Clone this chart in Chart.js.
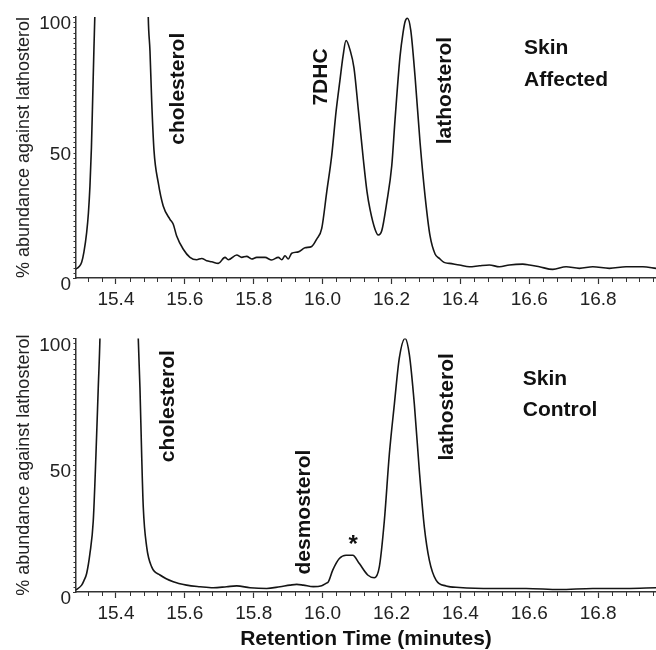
<!DOCTYPE html>
<html><head><meta charset="utf-8">
<script src="https://cdn.jsdelivr.net/npm/chart.js@4/dist/chart.umd.min.js"></script>
<style>
html,body{margin:0;padding:0;background:#fff;}
#wrap{position:relative;width:656px;height:650px;overflow:hidden;}
canvas{position:absolute;left:0;width:656px;height:325px;}
#c1{top:0}
#c2{top:325px}
</style></head><body>
<div id="wrap"><canvas id="c1" width="656" height="325"></canvas><canvas id="c2" width="656" height="325"></canvas></div>
<script>
// ---- data (retention time in minutes, % abundance against lathosterol) ----
const affectedTime = [15.2838,15.2925,15.3004,15.3071,15.3149,15.3201,15.3245,15.3288,15.3323,15.3361,15.339,15.3448,15.3535,15.417,15.484,15.49,15.4938,15.4988,15.5037,15.5104,15.5228,15.5372,15.5568,15.5664,15.5763,15.5955,15.6149,15.6344,15.6489,15.6634,15.678,15.6971,15.7166,15.7262,15.7506,15.7651,15.7796,15.7941,15.8087,15.8328,15.8522,15.8714,15.8813,15.8908,15.9004,15.9103,15.9295,15.9489,15.9684,15.9829,15.9975,16.012,16.0265,16.0393,16.0506,16.0593,16.068,16.0796,16.0912,16.1037,16.1183,16.129,16.1377,16.1522,16.1618,16.1717,16.1862,16.2007,16.2103,16.2248,16.2336,16.2394,16.2461,16.2559,16.2684,16.283,16.2975,16.312,16.3265,16.339,16.3527,16.3681,16.3971,16.4262,16.4552,16.4842,16.5133,16.5423,16.5812,16.6004,16.6294,16.6683,16.707,16.7456,16.7845,16.8327,16.8812,16.9297,16.9683];
const affectedAbundance = [3.4,4.3,6,10,17.4,25,35.2,50,68,88,102,140,200,700,200,130,100,87,68,49,36.5,27.6,22.5,20.6,16.1,11,7.9,7.0,7.5,6.6,6.2,5.6,7.9,7.0,8.8,7.9,8.3,7.3,7.9,7.9,6.9,7.9,7.0,8.5,7.3,9.5,10.0,11.6,12.1,14.9,19,33,47,64,76,85,91,87.4,80.4,64.5,45.4,33,26.3,18.7,16.5,18.1,28.9,42.9,60.7,84.9,94,98.2,99.5,95,77.2,51.8,31.4,16.1,9.2,7.5,6.0,5.6,5.0,4.3,4.7,5.0,4.3,5.0,5.3,5.0,4.3,3.3,4.3,3.7,4.3,3.7,4.3,4.3,3.7];

const controlTime = [15.2838,15.3004,15.3071,15.3149,15.3245,15.3341,15.3419,15.3486,15.3535,15.3593,15.4116,15.4581,15.4648,15.4697,15.4746,15.4793,15.4892,15.5037,15.5278,15.5664,15.6053,15.644,15.6826,15.7215,15.7506,15.7892,15.8377,15.8763,15.9053,15.9248,15.944,15.9731,15.9975,16.0099,16.0166,16.0294,16.0486,16.068,16.0875,16.1067,16.131,16.1502,16.1647,16.1793,16.1938,16.2083,16.2228,16.2394,16.2519,16.2664,16.2809,16.2954,16.31,16.3294,16.3585,16.3971,16.4941,16.5908,16.6875,16.7845,16.8812,16.9683];
const controlAbundance = [0.8,2.7,4.5,7.3,15.2,28,54,80.5,100,140,900,140,100,80.5,54.4,33.5,17.8,9.9,6.7,4.0,2.7,2.1,1.7,2.1,2.4,1.7,1.4,2.1,2.7,3.0,2.7,2.1,2.5,3.4,4.0,8.6,13.2,14.5,14.5,11.2,6.7,5.6,9.9,28.2,54.4,74,92.3,100,93.6,74,47.8,25.6,12.5,4.7,2.4,1.8,1.4,1.4,1.0,1.4,1.4,1.7];

const xTickLabels = ['15.4','15.6','15.8','16.0','16.2','16.4','16.6','16.8'];
const yTickLabels = ['0','50','100'];
const yAxisTitle = '% abundance against lathosterol';
const xAxisTitle = 'Retention Time (minutes)';

// peak labels: text, time, abundance, rotated
const affectedNotes = ['cholesterol','7DHC','lathosterol','Skin','Affected'];
const affectedNoteTime = [15.58,15.995,16.356,16.585,16.585];
const affectedNoteY = [72.5,77,71.8,88.2,75.6];
const affectedNoteRot = [true,true,true,false,false];

const controlNotes = ['cholesterol','desmosterol','*','lathosterol','Skin','Control'];
const controlNoteTime = [15.551,15.946,16.089,16.361,16.581,16.581];
const controlNoteY = [73.3,31.5,18.5,73,84.1,71.8];
const controlNoteRot = [true,true,false,true,false,false];

// ---- rendering ----
const FONT = "'Liberation Sans', Arial, Helvetica, sans-serif";
Chart.defaults.font.family = FONT;
Chart.defaults.color = '#222';

function notesPlugin(texts, times, ys, rots){
  return {
    id: 'notes',
    afterDatasetsDraw(chart){
      const {ctx, scales:{x, y}} = chart;
      ctx.save();
      ctx.fillStyle = '#111';
      texts.forEach((t, i) => {
        const px = x.getPixelForValue(times[i]);
        const py = y.getPixelForValue(ys[i]);
        ctx.save();
        ctx.font = (t === '*' ? 'bold 24px ' : 'bold 21px ') + FONT;
        ctx.translate(px, py);
        if (rots[i]) { ctx.rotate(-Math.PI/2); ctx.textAlign = 'center'; }
        else ctx.textAlign = (t === '*') ? 'center' : 'left';
        ctx.textBaseline = 'middle';
        ctx.fillText(t, 0, 0);
        ctx.restore();
      });
      ctx.restore();
    }
  };
}

const minorTicks = {
  id: 'minorTicks',
  afterDraw(chart){
    const {ctx, scales:{x, y}} = chart;
    ctx.save();
    ctx.strokeStyle = '#333';
    ctx.lineWidth = 1;
    ctx.beginPath();
    for (let v = 15.28; v <= x.max + 1e-9; v += 0.04) {
      const r = Math.round(v * 100) / 100;
      if (r < x.min || Math.abs(r * 5 - Math.round(r * 5)) < 1e-6) continue;
      const px = Math.round(x.getPixelForValue(r)) + 0.5;
      ctx.moveTo(px, y.bottom); ctx.lineTo(px, y.bottom + 4);
    }
    for (let v = 2; v < 100; v += 2) {
      if (v === 50) continue;
      const py = Math.round(y.getPixelForValue(v)) + 0.5;
      ctx.moveTo(x.left - 2.5, py); ctx.lineTo(x.left, py);
    }
    ctx.stroke();
    ctx.restore();
  }
};

function makeChart(id, times, values, notes, padTop, axisBottom, showXTitle){
  const H = 325;
  const pts = times.map((t, i) => ({x: t, y: values[i]}));
  return new Chart(document.getElementById(id), {
    type: 'line',
    data: { datasets: [{
      data: pts, borderColor: '#151515', borderWidth: 1.6, pointRadius: 0,
      fill: false, cubicInterpolationMode: 'monotone'
    }]},
    options: {
      responsive: false, animation: false, events: [],
      layout: { padding: { top: padTop, left: 0, right: 0, bottom: 0 } },
      plugins: { legend: { display: false }, tooltip: { enabled: false } },
      scales: {
        x: {
          type: 'linear', min: 15.284, max: 16.968,
          border: { color: '#333', width: 1.5 },
          grid: { drawOnChartArea: false, drawTicks: true, tickLength: 6, color: '#333', tickWidth: 1.2 },
          afterBuildTicks: s => { s.ticks = xTickLabels.map(t => ({ value: parseFloat(t) })); },
          ticks: { color: '#222', font: { size: 19 }, padding: 4, maxRotation: 0, autoSkip: false,
                   callback: (v) => xTickLabels.find(t => Math.abs(parseFloat(t) - v) < 1e-6) },
          title: { display: showXTitle, text: xAxisTitle, color: '#111',
                   font: { size: 21, weight: 'bold', lineHeight: 1.0 }, padding: { top: 0, bottom: 0 } },
          afterFit: s => { s.height = H - axisBottom; }
        },
        y: {
          type: 'linear', min: 0, max: 100,
          border: { color: '#333', width: 1.5 },
          grid: { drawOnChartArea: false, drawTicks: true, tickLength: 3, color: '#333' },
          afterBuildTicks: s => { s.ticks = yTickLabels.map(t => ({ value: parseFloat(t) })); },
          ticks: { color: '#222', font: { size: 19 }, padding: 2, labelOffset: 7,
                   callback: (v) => yTickLabels.find(t => parseFloat(t) === v) },
          title: { display: true, text: yAxisTitle, color: '#222', font: { size: 18 },
                   padding: { top: 13, bottom: 0 } },
          afterFit: s => { s.width = 76; }
        }
      }
    },
    plugins: [minorTicks, notes]
  });
}

makeChart('c1', affectedTime, affectedAbundance,
  notesPlugin(affectedNotes, affectedNoteTime, affectedNoteY, affectedNoteRot), 17, 278, false);
makeChart('c2', controlTime, controlAbundance,
  notesPlugin(controlNotes, controlNoteTime, controlNoteY, controlNoteRot), 12, 267, true);
</script>
</body></html>
